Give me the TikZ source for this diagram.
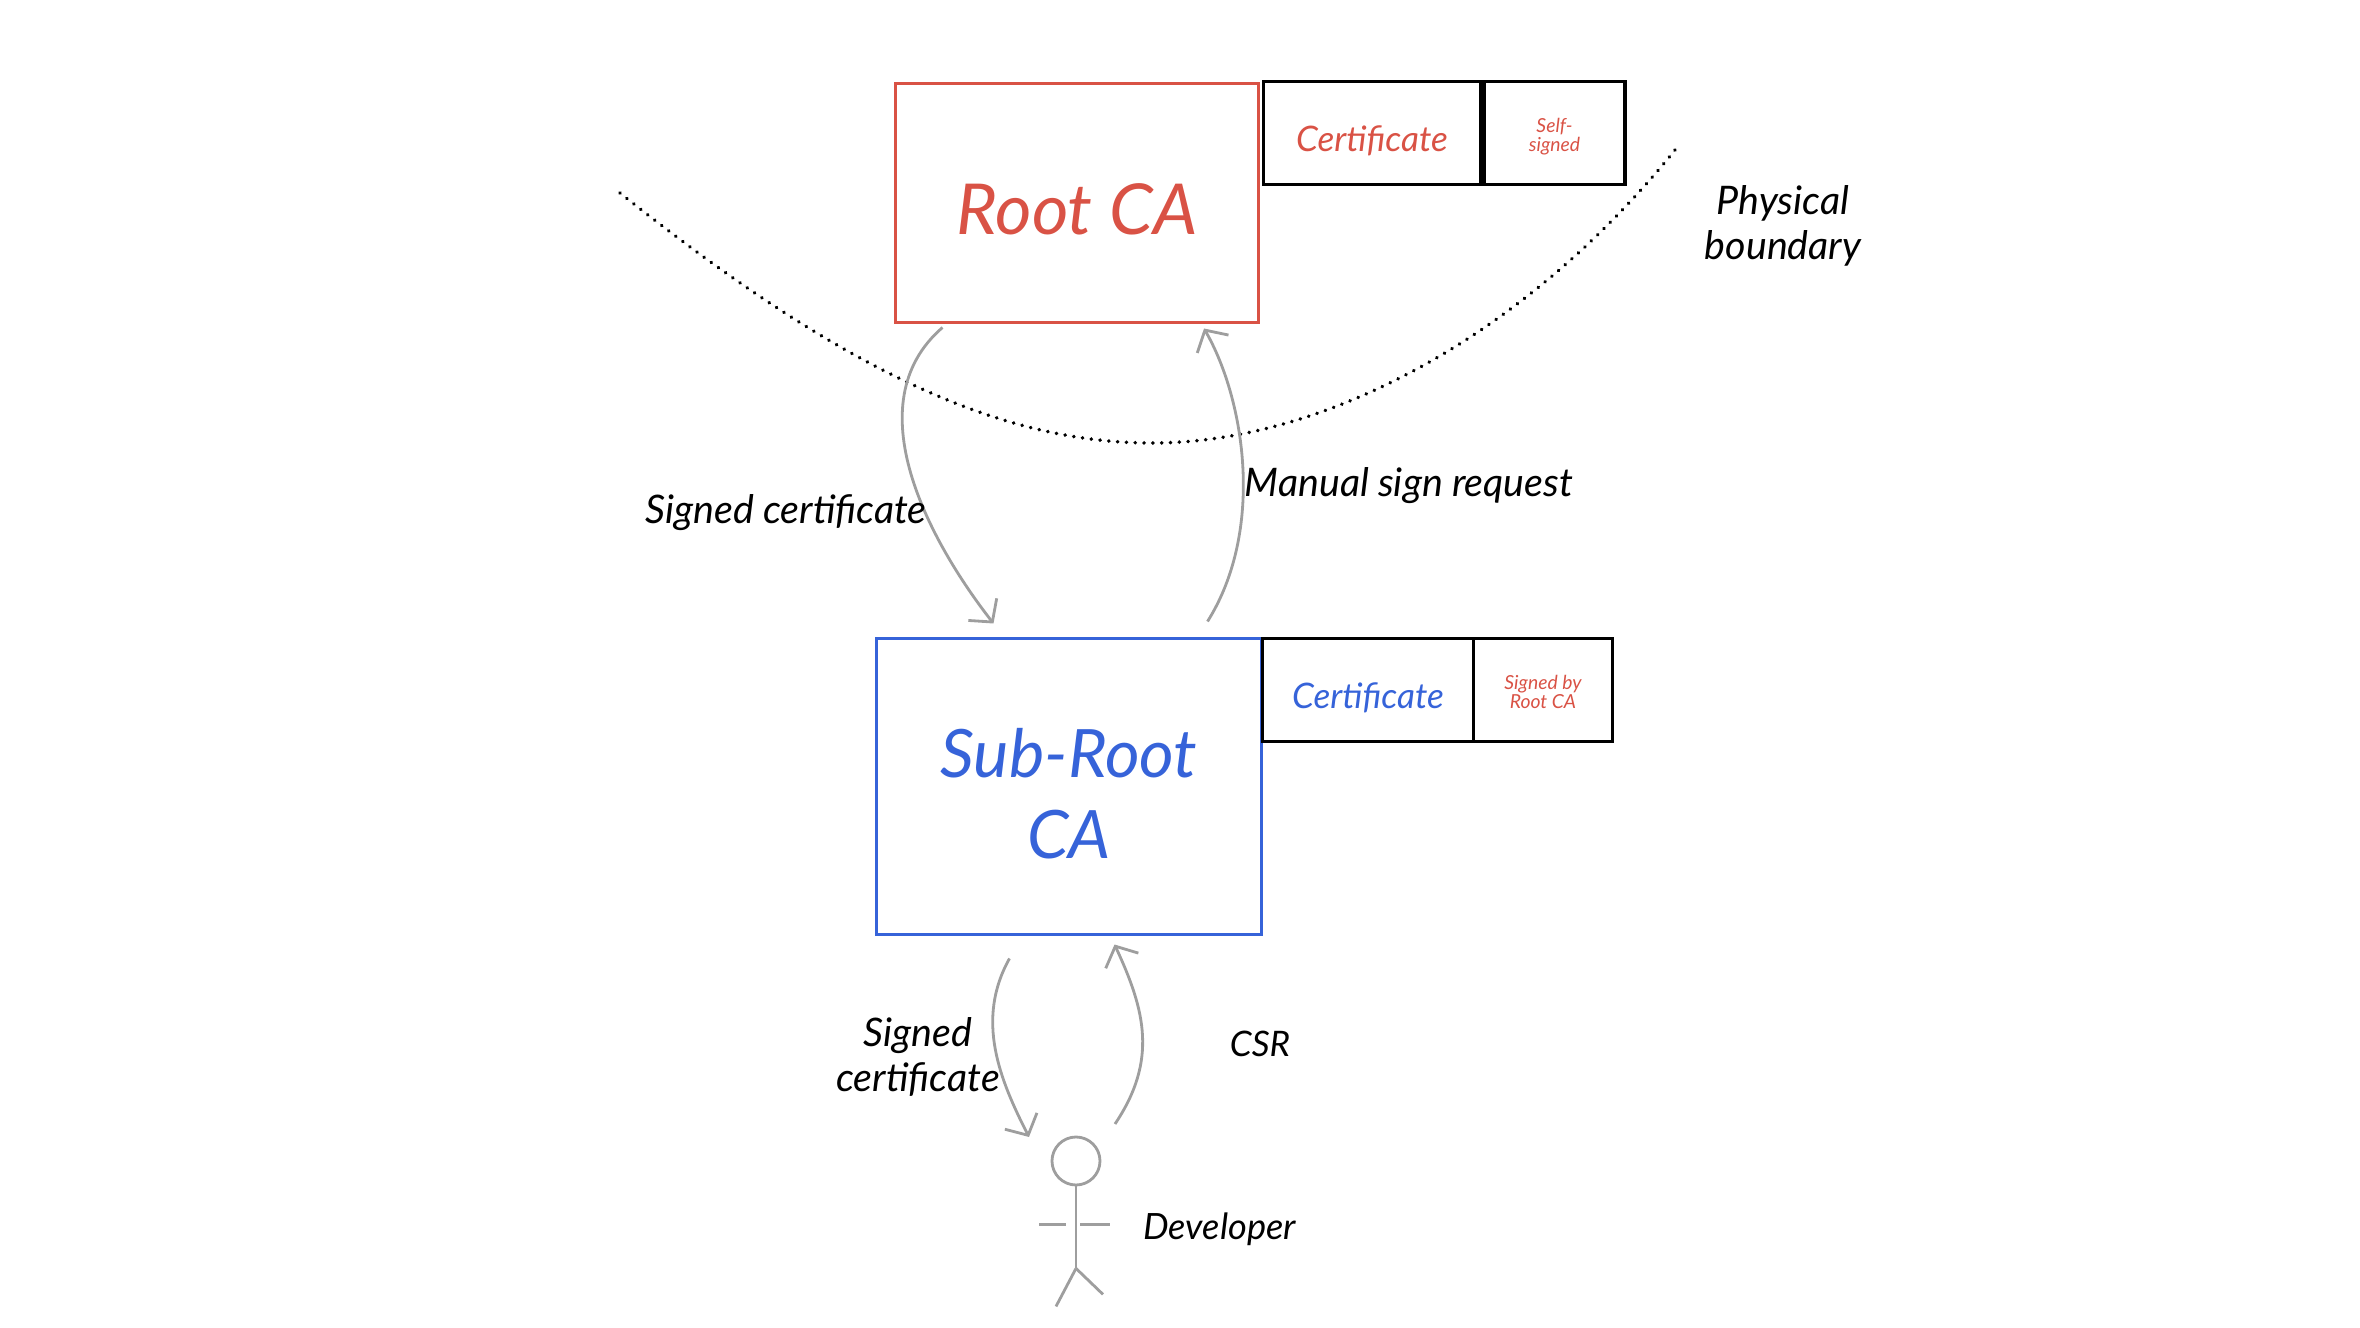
\documentclass[tikz,border=0pt]{standalone}
\usepackage{fontspec}
\setmainfont{Lato}
\usetikzlibrary{arrows.meta,positioning,calc}
\definecolor{rootred}{rgb}{0.85,0.32,0.27}
\definecolor{subblue}{rgb}{0.21,0.39,0.85}
\definecolor{pencil}{rgb}{0.62,0.62,0.62}

\begin{document}
\begin{tikzpicture}[
  cabox/.style={draw, line width=1.1pt, inner sep=0pt, outer sep=0pt, align=center,
                font=\fontsize{20}{23}\selectfont\itshape},
  certbox/.style={draw=black, line width=1.1pt, inner sep=0pt, outer sep=0pt,
                  minimum height=1.03cm, align=center, anchor=north west,
                  text height=10.5pt, text depth=0pt,
                  font=\fontsize{10}{12}\selectfont\itshape},
  notebox/.style={draw=black, line width=1.1pt, inner sep=0pt, outer sep=0pt,
                  minimum height=1.03cm, align=center,
                  font=\fontsize{5.5}{5.5}\selectfont\itshape},
  lbl/.style={font=\fontsize{11.2}{13}\selectfont\itshape, align=center},
  arr/.style={-{Straight Barb[length=1.6mm,width=3.6mm]}, color=pencil, line width=0.8pt},
  stick/.style={color=pencil, line width=0.8pt}
]
  \useasboundingbox (0,0) rectangle (23.6,13.27);

  % Root
  \node[cabox, draw=rootred, text=rootred, minimum width=3.63cm, minimum height=2.39cm,
        text height=18pt, text depth=0pt]
        (root) at (10.77,11.24) {Root CA};
  \node[certbox, text=rootred, minimum width=2.17cm] (rootcert)
        at ([xshift=0.05cm,yshift=0.02cm]root.north east) {Certificate};
  \node[notebox, text=rootred, minimum width=1.41cm, right=0.035cm of rootcert] (rootnote)
        {\rule{0pt}{6pt}Self-\\signed};

  % Sub-root
  \node[cabox, draw=subblue, text=subblue, minimum width=3.85cm, minimum height=2.96cm,
        font=\fontsize{19}{23}\selectfont\itshape]
        (sub) at (10.69,5.405) {\rule{0pt}{18pt}Sub-Root\\CA};
  \node[certbox, text=subblue, minimum width=2.11cm] (subcert)
        at ([xshift=0.01cm]sub.north east) {Certificate};
  \node[notebox, text=rootred, minimum width=1.39cm, right=0cm of subcert] (subnote)
        {\rule{0pt}{5pt}Signed by\\Root CA};

  % Developer
  \node[circle, draw=pencil, line width=0.8pt, minimum size=0.48cm, inner sep=0pt] (head)
        at (10.76,1.66) {};
  \coordinate (hip) at ([yshift=-0.82cm]head.south);
  \coordinate (waist) at ([yshift=-0.38cm]head.south);
  \draw[stick] (head.south) -- (hip);
  \draw[stick] ([xshift=-0.37cm]waist) -- ([xshift=-0.10cm]waist);
  \draw[stick] ([xshift=0.04cm]waist) -- ([xshift=0.34cm]waist);
  \draw[stick] (hip) -- ++(-0.20,-0.38);
  \draw[stick] (hip) -- ++(0.27,-0.26);
  \node[lbl, right=0.55cm of waist, yshift=-0.05cm, font=\fontsize{10.3}{13}\selectfont\itshape]
        (dev) {Developer};

  % Physical boundary
  \coordinate (boundl) at (6.20,11.34);
  \coordinate (boundm) at (11.52,8.84);
  \coordinate (boundr) at (16.75,11.77);
  \draw[line width=1.1pt, line cap=round, dash pattern=on 0.01pt off 2.5pt]
        (boundl) .. controls (8.30,9.67) and (9.90,8.84) .. (boundm)
        .. controls (13.30,8.84) and (15.30,9.97) .. (boundr);
  \node[lbl] (bound) at (17.83,11.01) {Physical\\boundary};

  % Arrows
  \draw[arr] ([shift={(0.47,-0.05)}]root.south west)
        .. controls (8.54,9.23) and (9.30,7.85) .. ([shift={(1.17,0.15)}]sub.north west);
  \draw[arr] ([shift={(-0.54,0.17)}]sub.north east)
        .. controls (12.65,7.97) and (12.45,9.27) .. ([shift={(-0.545,-0.06)}]root.south east);
  \draw[arr] ([shift={(1.33,-0.24)}]sub.south west)
        .. controls (9.75,3.07) and (10.00,2.47) .. ([shift={(-0.47,0.24)}]head.center);
  \draw[arr] ([shift={(0.39,0.37)}]head.center)
        .. controls (11.58,2.67) and (11.45,3.17) .. ([shift={(-1.47,-0.10)}]sub.south east);

  % Labels
  \node[lbl] (signedtop) at (7.86,8.14) {Signed certificate};
  \node[lbl] (manual) at (14.09,8.41) {Manual sign request};
  \node[lbl] (signedlow) at (9.18,2.70) {Signed\\certificate};
  \node[lbl, font=\fontsize{10}{13}\selectfont\itshape] (csr) at (12.60,2.83) {CSR};
\end{tikzpicture}
\end{document}
